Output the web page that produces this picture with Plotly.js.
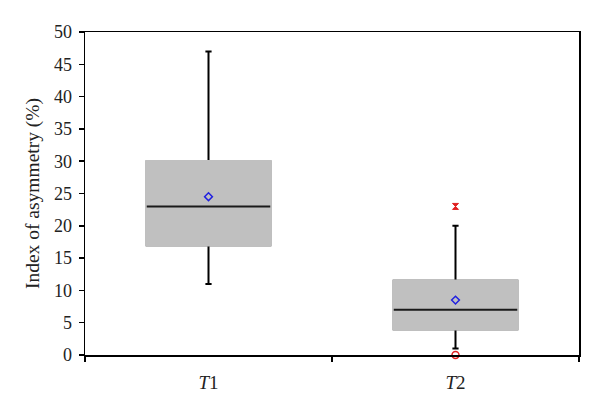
<!DOCTYPE html>
<html>
<head>
<meta charset="utf-8">
<script src="https://cdn.plot.ly/plotly-3.0.1.min.js"></script>
<style>html,body{margin:0;padding:0;background:#fff;}#chart{width:600px;height:413px;}</style>
</head>
<body>
<div id="chart"></div>
<script>
const categories = ['<i>T</i>1', '<i>T</i>2'];
const lowerWhisker = [11, 1];
const q1 = [17, 4];
const median = [23, 7];
const q3 = [30, 11.5];
const upperWhisker = [47, 20];
const means = [24.5, 8.5];
const outlierHighCat = ['<i>T</i>2'];
const outlierHigh = [23];
const outlierLowCat = ['<i>T</i>2'];
const outlierLow = [0];

const fontFam = '"Liberation Serif", "DejaVu Serif", serif';

const traces = [
  {type: 'box', x: categories, q1: q1, median: median, q3: q3,
   lowerfence: lowerWhisker, upperfence: upperWhisker,
   boxpoints: false, width: 0.5, whiskerwidth: 0.05,
   fillcolor: '#c0c0c0', line: {color: '#000', width: 2},
   hoverinfo: 'skip', showlegend: false},
  {type: 'box', x: categories, q1: q1, median: median, q3: q3,
   lowerfence: q1, upperfence: q3,
   boxpoints: false, width: 0.5, whiskerwidth: 0,
   fillcolor: '#c0c0c0', line: {color: '#c0c0c0', width: 2.5},
   hoverinfo: 'skip', showlegend: false},
  {type: 'box', x: categories, q1: median, median: median, q3: median,
   lowerfence: median, upperfence: median,
   boxpoints: false, width: 0.5, whiskerwidth: 0,
   fillcolor: 'rgba(0,0,0,0)', line: {color: '#1a1a1a', width: 2},
   hoverinfo: 'skip', showlegend: false},
  {type: 'scatter', mode: 'markers', x: categories, y: means,
   marker: {symbol: 'diamond-open', size: 6, color: '#2020e0', line: {width: 1.5, color: '#2020e0'}},
   showlegend: false, cliponaxis: false},
  {type: 'scatter', mode: 'markers', x: outlierHighCat, y: outlierHigh,
   marker: {symbol: 'hourglass', size: 6, color: '#e02020', line: {width: 1, color: '#e02020'}},
   showlegend: false, cliponaxis: false},
  {type: 'scatter', mode: 'markers', x: outlierLowCat, y: outlierLow,
   marker: {symbol: 'circle-open', size: 7, color: '#e02020', line: {width: 1.5, color: '#e02020'}},
   showlegend: false, cliponaxis: false}
];

const layout = {
  width: 600, height: 413,
  margin: {l: 85, r: 21, t: 32, b: 58},
  paper_bgcolor: '#fff', plot_bgcolor: '#fff',
  showlegend: false,
  boxmode: 'overlay',
  font: {family: fontFam, size: 18, color: '#222'},
  xaxis: {
    type: 'category', range: [-0.5, 1.5],
    tickson: 'boundaries', ticks: 'outside', ticklen: 5, tickcolor: '#000', tickwidth: 1.5,
    ticklabelstandoff: 10,
    showline: true, linecolor: '#000', linewidth: 1.5, mirror: true,
    showgrid: false, zeroline: false,
    tickfont: {family: fontFam, size: 19, color: '#222'}
  },
  yaxis: {
    range: [0, 50], dtick: 5, tick0: 0,
    ticks: 'outside', ticklen: 5, tickcolor: '#000', tickwidth: 1.5,
    ticklabelstandoff: 3,
    showline: true, linecolor: '#000', linewidth: 1.5, mirror: true,
    showgrid: false, zeroline: false,
    tickfont: {family: fontFam, size: 18, color: '#222'},
    title: {text: 'Index of asymmetry (%)', font: {family: fontFam, size: 19.5, color: '#222'}, standoff: 9}
  }
};

Plotly.newPlot('chart', traces, layout, {staticPlot: true, displayModeBar: false});
</script>
</body>
</html>
